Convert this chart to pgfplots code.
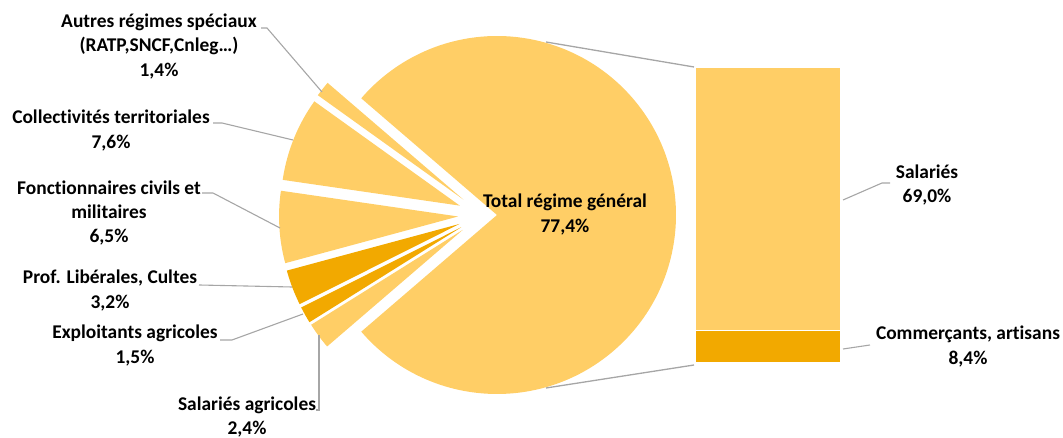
\documentclass[border=0pt]{standalone}
\usepackage{pgfplots}
\pgfplotsset{compat=1.18}
\usepackage{fontspec}
\setmainfont{Carlito}[Ligatures=NoCommon]
\definecolor{light}{HTML}{FFCE66}
\definecolor{dark}{HTML}{F2A900}
\definecolor{lead}{HTML}{A6A6A6}
\newcommand\lbl{\fontsize{19.5}{24.5}\selectfont\bfseries}
\begin{document}
\begin{tikzpicture}[x=1bp,y=1bp]
\path[use as bounding box, clip] (0,0) rectangle (1063,438);
% ---- pie of values (percent): big slice 77.4, small slices below
\fill[light] (497,223) -- ++(220.68:179) arc[start angle=220.68, end angle=499.32, radius=179] -- cycle;
\pgfmathsetmacro\s{139.32}
\foreach \v/\c in {1.4/light,7.6/light,6.5/light,3.2/dark,1.5/dark,2.4/light}{
  \pgfmathsetmacro\e{\s+3.6*\v}
  \pgfmathsetmacro\b{(\s+\e)/2}
  \fill[\c] ([shift={(\b:25)}]483,223) -- ++(\s:179) arc[start angle=\s, end angle=\e, radius=179] -- cycle;
  \global\let\s\e
}
% ---- bar of the split slice
\begin{axis}[at={(695bp,75bp)}, anchor=south west, width=145bp, height=295bp, scale only axis,
  hide axis, xmin=-1, xmax=1, ymin=0, ymax=77.4, ybar stacked, bar width=145bp]
\addplot[fill=dark, draw=white, line width=1bp] coordinates {(0,8.4)};
\addplot[fill=light, draw=white, line width=1bp] coordinates {(0,69.0)};
\end{axis}
% ---- labels and lines
\begin{axis}[at={(0bp,0bp)}, anchor=south west, width=1063bp, height=438bp, scale only axis,
  xmin=0, xmax=1063, ymin=0, ymax=438, y dir=reverse, hide axis, clip=false]
\draw[lead, line width=1.3bp] (axis cs:546,42) -- (axis cs:694,67);
\draw[lead, line width=1.3bp] (axis cs:546,388) -- (axis cs:694,365);
\draw[lead, line width=1.1bp] (axis cs:261,28) -- (axis cs:267,28) -- (axis cs:322,92);
\draw[lead, line width=1.1bp] (axis cs:213,123) -- (axis cs:222,123) -- (axis cs:293,140);
\draw[lead, line width=1.1bp] (axis cs:202,193) -- (axis cs:213,193) -- (axis cs:280,228);
\draw[lead, line width=1.1bp] (axis cs:199,285) -- (axis cs:292,287);
\draw[lead, line width=1.1bp] (axis cs:220,340) -- (axis cs:232,340) -- (axis cs:303,314);
\draw[lead, line width=1.1bp] (axis cs:316,410) -- (axis cs:319,410) -- (axis cs:319,335);
\draw[lead, line width=1.1bp] (axis cs:843,200) -- (axis cs:882,183) -- (axis cs:890,183);
\draw[lead, line width=1.1bp] (axis cs:843,349) -- (axis cs:870,345);
\node[font=\lbl, align=center] at (axis cs:159,46.5) {Autres régimes spéciaux\\(RATP,SNCF,Cnleg…)\\1,4\%};
\node[font=\lbl, align=center] at (axis cs:111,130.5) {Collectivités territoriales\\7,6\%};
\node[font=\lbl, align=center] at (axis cs:109,213) {Fonctionnaires civils et\\militaires\\6,5\%};
\node[font=\lbl, align=center] at (axis cs:110,290.5) {Prof. Libérales, Cultes\\3,2\%};
\node[font=\lbl, align=center] at (axis cs:135,345.5) {Exploitants agricoles\\1,5\%};
\node[font=\lbl, align=center] at (axis cs:247,417) {Salariés agricoles\\2,4\%};
\node[font=\lbl, align=center] at (axis cs:565,214.5) {Total régime général\\77,4\%};
\node[font=\lbl, align=center] at (axis cs:927,185) {Salariés\\69,0\%};
\node[font=\lbl, align=center] at (axis cs:968,346.5) {Commerçants, artisans\\8,4\%};
\end{axis}
\end{tikzpicture}
\end{document}
